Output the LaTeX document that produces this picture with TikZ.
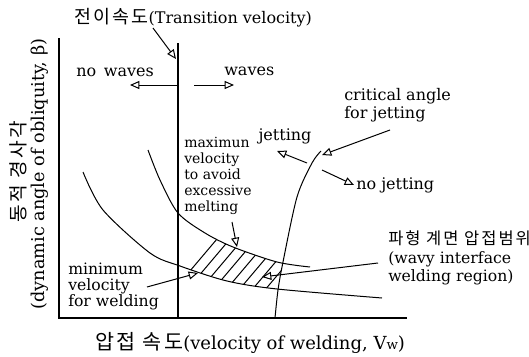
\documentclass[tikz,border=0pt]{standalone}
\usepackage{fontspec}
\setmainfont{DejaVu Serif}
\newfontfamily\kofont{Noto Sans CJK KR}[Scale=1.15,LetterSpace=12]
\usetikzlibrary{arrows.meta}

\newcommand{\maxcurve}{plot[smooth] coordinates {(148,150) (160,180) (178,213) (205,233) (233,247) (277,262) (310,267)}}
\newcommand{\mincurve}{plot[smooth] coordinates {(83,172) (103,210) (150,253) (180,266) (227,281) (277,289) (382,298)}}
\newcommand{\jetcurve}{plot[smooth] coordinates {(275,318) (278,290) (283,262) (297,197) (312,163) (321,151)}}

\tikzset{
  axisline/.style={line width=1.5pt},
  tline/.style={line width=1.1pt},
  curveline/.style={line width=0.75pt},
  hatch/.style={line width=0.75pt},
  openarrow/.style={line width=0.75pt, -{Triangle[open,length=7pt,width=6pt]}},
  lbl/.style={anchor=west, inner sep=0.75pt, align=left, font=\fontsize{12}{13.5}\selectfont},
  smalllbl/.style={lbl, font=\fontsize{10.5}{12}\selectfont},
  axislbl/.style={lbl, anchor=center, font=\fontsize{13.5}{15}\selectfont},
}

\begin{document}
\begin{tikzpicture}[x=0.75pt,y=0.75pt,yscale=-1,xscale=1]
\useasboundingbox (0,0) rectangle (529,357);

%Axes
\coordinate (ytop) at (59,38);
\coordinate (origin) at (59,318);
\coordinate (xend) at (407,318);
\draw [axisline] (ytop) -- (origin) -- (xend);
%Transition velocity line
\coordinate (ttop) at (178,43);
\coordinate (tbot) at (178,318);
\draw [tline] (ttop) -- (tbot);

%Hatched welding region
\begin{scope}
  \clip (178,0) rectangle (529,357);
  \clip \maxcurve -- (310,357) -- (148,357) -- cycle;
  \clip \mincurve -- (382,0) -- (83,0) -- cycle;
  \clip \jetcurve -- (0,151) -- (0,318) -- cycle;
  \foreach \k in {0,...,18}
    \draw [hatch] ({140+13*\k},330) -- ++(110,-130);
\end{scope}

%Curves
\draw [curveline] \maxcurve;
\draw [curveline] \mincurve;
\draw [curveline] \jetcurve;

% Text Node
\node [lbl] (trans) at (73,18) {{\kofont 전이속도}(Transition velocity)};
\coordinate (transtail) at (153,28);
\coordinate (transtip) at (176,59);
\draw [openarrow] (transtail) -- (transtip);
% Text Node
\node [lbl] (nowaves) at (75,72) {no\, waves};
\node [lbl] (waves) at (223,71) {waves};
\coordinate (nwtail) at (177,85);
\coordinate (nwtip) at (130,85);
\coordinate (wtail) at (194,85);
\coordinate (wtip) at (234,85);
\draw [openarrow] (nwtail) -- (nwtip);
\draw [openarrow] (wtail) -- (wtip);
% Text Node
\node [lbl] (critical) at (343,105) {critical angle\\for jetting};
\coordinate (crittail) at (390,130);
\coordinate (crittip) at (322,155);
\draw [openarrow] (crittail) -- (crittip);
% Text Node
\node [lbl, anchor=center] (jetting) at (285,136) {jetting};
\node [lbl] (nojetting) at (355,185) {no jetting};
\coordinate (jettail) at (307,163);
\coordinate (jettip) at (277,151);
\coordinate (nojettail) at (322,170);
\coordinate (nojettip) at (354,185);
\draw [openarrow] (jettail) -- (jettip);
\draw [openarrow] (nojettail) -- (nojettip);
% Text Node
\node [smalllbl] (maxvel) at (183,176) {maximun\\velocity\\to avoid\\excessive\\melting};
\coordinate (maxtail) at (232,222);
\coordinate (maxtip) at (237,247);
\draw [openarrow] (maxtail) -- (maxtip);
% Text Node
\node [smalllbl, font=\fontsize{11.75}{12}\selectfont] (minvel) at (67,286) {minimum\\velocity\\for welding};
\coordinate (mintail) at (147,287);
\coordinate (mintip) at (198,273);
\draw [openarrow] (mintail) -- (mintip);
% Text Node
\node [smalllbl, font=\fontsize{11.75}{13.9}\selectfont] (wavy) at (387,258) {{\kofont\fontsize{10.75}{13.9}\selectfont 파형 계면 압접범위}\\(wavy interface\\welding region)};
\coordinate (wavytail) at (378,263);
\coordinate (wavytip) at (262,277);
\draw [openarrow] (wavytail) -- (wavytip);

% Axis labels
\node [axislbl] (xlabel) at (250,343) {{\kofont 압접 속도}(velocity of welding, V{\fontsize{10}{10}\selectfont w})};
\node [axislbl, rotate=90, font=\fontsize{12.5}{15}\selectfont] (ylabelko) at (18,172) {\kofont 동적 경사각};
\node [axislbl, rotate=90, font=\fontsize{13.25}{15}\selectfont] (ylabel) at (40,174) {(dynamic angle of obliquity, β)};

\end{tikzpicture}
\end{document}
